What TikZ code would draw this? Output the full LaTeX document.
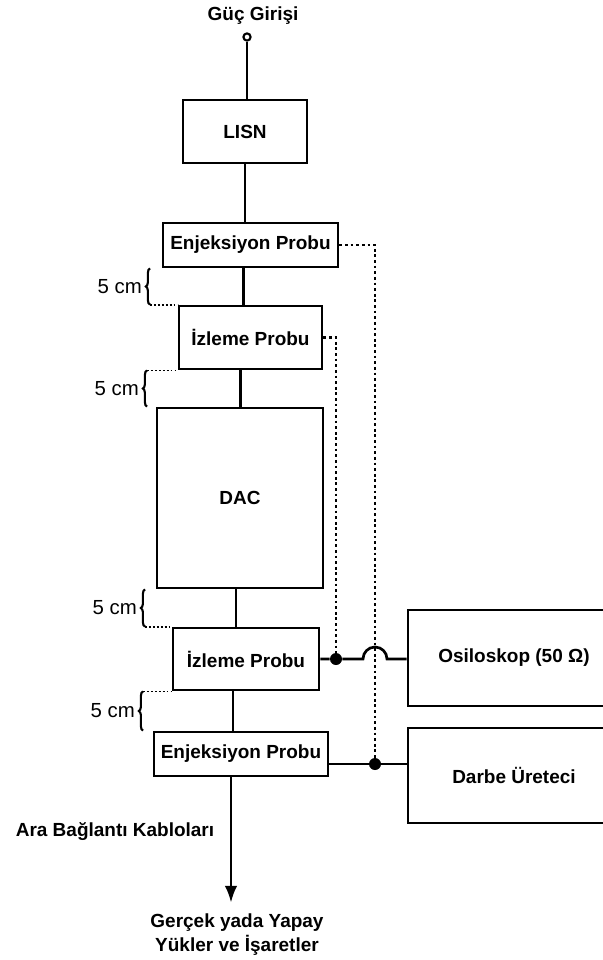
\documentclass[tikz,border=0pt]{standalone}
\usepackage{fontspec}
\setmainfont{Liberation Sans}
\usetikzlibrary{arrows.meta,calc,decorations.pathreplacing}

\begin{document}
\begin{tikzpicture}[x=0.025cm,y=0.025cm,>=Latex,
  blk/.style={draw,line width=2pt,inner sep=0pt,font=\fontsize{13.5}{15}\selectfont\bfseries},
  lbl/.style={font=\fontsize{13.5}{17}\selectfont\bfseries,align=center,inner sep=1pt},
  wire/.style={line width=1.9pt},
  sig/.style={line width=2pt,dash pattern=on 2pt off 2pt},
  ext/.style={line width=1.3pt,dash pattern=on 1.3pt off 1.5pt},
  dim/.style={line width=1.5pt,decorate,decoration={brace,amplitude=3pt}},
  dimtext/.style={font=\fontsize{14.5}{16}\selectfont,inner sep=2pt},
  dot/.style={circle,fill,inner sep=0pt,minimum size=0.3cm}]
  \useasboundingbox (0,0) rectangle (603,-960);
  % blocks
  \node[lbl] (guc) at (253,-16) {Güç Girişi};
  \node[circle,draw,line width=1.5pt,inner sep=0pt,minimum size=0.18cm] (in) at (247,-37) {};
  \node[blk,minimum width=3.1cm,minimum height=1.575cm] (lisn) at (245,-131.5) {LISN};
  \node[blk,minimum width=4.375cm,minimum height=1.1cm] (enjA) at (250.5,-245) {Enjeksiyon Probu};
  \node[blk,minimum width=3.575cm,minimum height=1.575cm] (izlA) at (250.5,-337.5) {İzleme Probu};
  \node[blk,minimum width=4.15cm,minimum height=4.5cm] (dac) at (240,-498) {DAC};
  \node[blk,minimum width=3.65cm,minimum height=1.55cm] (izlB) at (246,-659) {İzleme Probu};
  \node[blk,minimum width=4.35cm,minimum height=1.1cm] (enjB) at (241,-754) {Enjeksiyon Probu};
  \node[blk,minimum width=5.3cm,minimum height=2.4cm] (osc) at (514,-658) {Osiloskop (50 Ω)};
  \node[blk,minimum width=5.3cm,minimum height=2.375cm] (darbe) at (514,-775.5) {Darbe Üreteci};
  \node[lbl] (cables) at (115,-832) {Ara Bağlantı Kabloları};
  \node[lbl] (loads) at (237,-935) {Gerçek yada Yapay\\Yükler ve İşaretler};
  % main line
  \draw[wire] (in) -- (in |- lisn.north);
  \foreach \a/\b/\dx in {lisn/enjA/0,enjA/izlA/-7,izlA/dac/-10,dac/izlB/-4,izlB/enjB/-13}
    \draw[wire] (\a.south) ++(\dx,0) coordinate (t) -- (t |- \b.north);
  \draw[wire,-{Latex[length=12pt,width=9pt]},shorten >=7pt] (enjB.south) ++(-10,0) coordinate (t) -- (t |- loads.north);
  % junctions
  \coordinate (jo) at (izlB.east -| 336,0);
  \coordinate (jd) at ($(enjB.east -| 375,0)+(0,-10)$);
  \node[dot] (dO) at (jo) {};
  \node[dot] (dD) at (jd) {};
  \draw[wire] (izlB.east) -- (dO) -- ($(dO -| dD)+(-12,0)$) arc[start angle=180,end angle=0,radius=12] -- (dO -| osc.west);
  \draw[wire] ($(enjB.east)+(0,-10)$) -- (dD) -- (dD -| darbe.west);
  \draw[sig] (izlA.east) -- (izlA.east -| dO) -- (dO);
  \draw[sig] (enjA.east) -- (enjA.east -| dD) -- (dD);
  % 5 cm spacings
  \foreach \up/\dn/\bx in {enjA/izlA/150,izlA/dac/147,dac/izlB/145,izlB/enjB/143}
    \draw[dim] (\bx,0 |- \dn.north) -- (\bx,0 |- \up.south) node[dimtext,midway,left=3pt] {5 cm};
  \draw[ext] (150,0 |- izlA.north) -- (izlA.north west);
  \draw[ext] (147,0 |- izlA.south) -- (izlA.south west);
  \draw[ext] (145,0 |- izlB.north) -- (izlB.north west);
  \draw[ext] (143,0 |- izlB.south) -- (izlB.south west);
\end{tikzpicture}
\end{document}
